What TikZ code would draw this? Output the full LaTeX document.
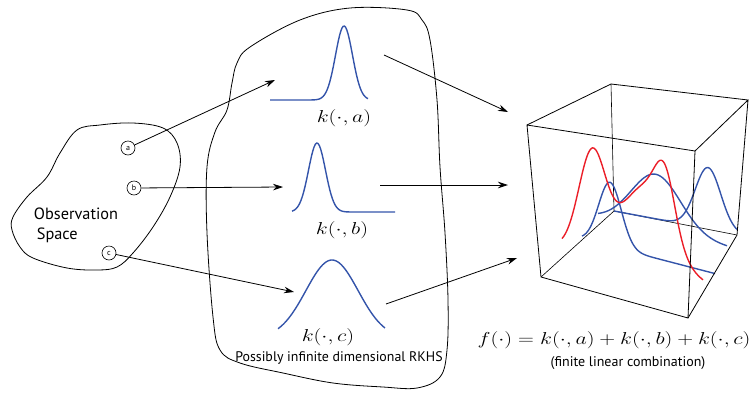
\documentclass[tikz,border=0pt]{standalone}
\usepackage{fontspec}
\usepackage{graphicx}
\newfontfamily\labelfont{PT Sans}
\usetikzlibrary{arrows.meta}
\definecolor{kblue}{RGB}{52,84,170}
\definecolor{kred}{RGB}{235,30,40}
\newcommand{\wide}[1]{\scalebox{1.27}[1]{#1}}
\begin{document}
\begin{tikzpicture}[x=1pt, y=-1pt, line width=0.8pt,
    pt/.style={draw, circle, line width=0.6pt, minimum size=14pt, inner sep=0pt, font=\labelfont\fontsize{8}{8}\selectfont},
    kern/.style={kblue, line width=1.4pt},
    lbl/.style={font=\fontsize{18.5}{20}\selectfont},
    map/.style={-{Stealth[length=10pt,width=6.5pt]}}]
  \useasboundingbox (0,0) rectangle (751,402);
  % observation space
  \draw plot[smooth cycle, tension=0.6] coordinates {(77,130) (100,125) (133,123) (163,128) (177,143)
    (180,167) (170,197) (153,227) (133,253) (117,267) (97,270) (67,268) (33,258) (20,247) (12,230)
    (13,217) (27,197) (47,177) (60,153)};
  \node[font=\labelfont\fontsize{16.3}{20}\selectfont, align=left] (obs) at (76,225)
    {Observation\\\hspace{3pt}Space};
  \node[pt] (a) at (128,148) {a};
  \node[pt] (b) at (134,188) {b};
  \node[pt] (c) at (109,253) {c};
  % RKHS
  \draw plot[smooth cycle, tension=0.6] coordinates {(237,63) (250,47) (300,20) (350,8) (407,10) (422,20)
    (430,40) (437,100) (440,167) (445,233) (448,300) (447,350) (440,377) (417,388) (383,387) (333,383)
    (283,373) (240,363) (220,350) (213,317) (207,233) (207,167) (215,132) (227,110) (232,83)};
  \draw[kern] plot[domain=270:368, samples=80] (\x,{100-74*exp(-((\x-344)/12)^2)});
  \draw[kern] plot[domain=292:395, samples=80] (\x,{212-69*exp(-((\x-317)/12)^2)});
  \draw[kern] plot[domain=278:385, samples=80] (\x,{338-78*exp(-((\x-332)/37)^2)});
  \node[lbl] (ka) at (344,118) {\wide{$k(\cdot,a)$}};
  \node[lbl] (kb) at (342,230) {\wide{$k(\cdot,b)$}};
  \node[lbl] (kc) at (328,337) {\wide{$k(\cdot,c)$}};
  \node[font=\labelfont\fontsize{13.9}{15}\selectfont] (rkhs) at (339,358) {Possibly infinite dimensional RKHS};
  \coordinate (ina) at (275,80);
  \coordinate (inb) at (283,187);
  \coordinate (inc) at (294,292);
  \draw[map] (a) -- (ina);
  \draw[map] (b) -- (inb);
  \draw[map] (c) -- (inc);
  % cube
  \coordinate (ftl) at (527,125); \coordinate (ftr) at (695,151);
  \coordinate (fbl) at (541,277); \coordinate (fbr) at (688,318);
  \coordinate (btl) at (611,84);  \coordinate (btr) at (748,100);
  \coordinate (bbl) at (614,211); \coordinate (bbr) at (737,235);
  \draw[line width=0.6pt] (btl) -- (bbl) -- (fbl) (bbl) -- (bbr);
  \draw[kern] plot[domain=582:715, samples=100] (\x,{239+0.26*(\x-582)-64*exp(-((\x-610)/16)^2)});
  \draw[kern] plot[domain=598:727, samples=100] (\x,{217+0.23*(\x-598)-56*exp(-((\x-656)/35)^2)});
  \draw[kern] plot[domain=614:737, samples=100] (\x,{211+0.187*(\x-614)-61*exp(-((\x-708)/18)^2)});
  \draw[kred, line width=1.4pt] plot[domain=562:703, samples=140] (\x,{247+0.27*(\x-562)
    -98.8*exp(-((\x-592)/19)^2)-81.3*exp(-((\x-645)/35)^2)-51.6*exp(-((\x-665)/14)^2)});
  \draw (ftl) -- (ftr) -- (fbr) -- (fbl) -- cycle;
  \draw (ftl) -- (btl) -- (btr) -- (ftr) (btr) -- (bbr) -- (fbr);
  \coordinate (oa) at (384,55);
  \coordinate (ob) at (380,185);
  \coordinate (oc) at (386,304);
  \coordinate (ca) at (508,112);
  \coordinate (cb) at (508,185);
  \coordinate (cc) at (517,258);
  \draw[map] (oa) -- (ca);
  \draw[map] (ob) -- (cb);
  \draw[map] (oc) -- (cc);
  \node[lbl] (sum) at (614,340) {\wide{$f(\cdot)=k(\cdot,a)+k(\cdot,b)+k(\cdot,c)$}};
  \node[font=\labelfont\fontsize{14}{16}\selectfont] (comb) at (628,363) {(finite linear combination)};
\end{tikzpicture}
\end{document}
